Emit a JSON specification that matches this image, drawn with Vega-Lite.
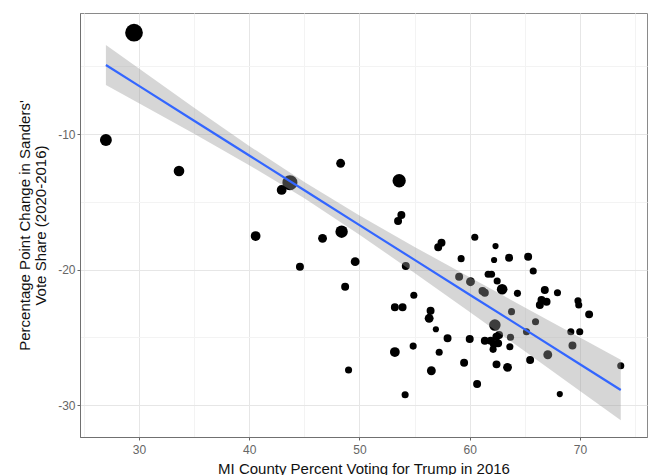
{
  "$schema": "https://vega.github.io/schema/vega-lite/v6.json",
  "width": 567,
  "height": 424,
  "autosize": {"type": "none"},
  "padding": {"left": 80, "top": 13, "right": 1, "bottom": 38},
  "background": "white",
  "config": {
    "view": {"stroke": "#8a8a8a", "strokeWidth": 1},
    "font": "Liberation Sans"
  },
  "datasets": {
    "counties": [
      {"trump": 29.55, "change": -2.52, "pop": 1760},
      {"trump": 27.0, "change": -10.44, "pop": 710},
      {"trump": 33.63, "change": -12.73, "pop": 540},
      {"trump": 48.29, "change": -12.16, "pop": 330},
      {"trump": 53.6, "change": -13.45, "pop": 925},
      {"trump": 43.69, "change": -13.59, "pop": 1230},
      {"trump": 42.94, "change": -14.13, "pop": 430},
      {"trump": 53.8, "change": -15.98, "pop": 235},
      {"trump": 53.5, "change": -16.42, "pop": 235},
      {"trump": 48.38, "change": -17.21, "pop": 790},
      {"trump": 46.65, "change": -17.7, "pop": 330},
      {"trump": 40.58, "change": -17.53, "pop": 430},
      {"trump": 44.6, "change": -19.79, "pop": 235},
      {"trump": 49.61, "change": -19.42, "pop": 330},
      {"trump": 54.2, "change": -19.74, "pop": 235},
      {"trump": 48.7, "change": -21.27, "pop": 235},
      {"trump": 54.93, "change": -21.9, "pop": 155},
      {"trump": 53.21, "change": -22.79, "pop": 235},
      {"trump": 53.91, "change": -22.79, "pop": 235},
      {"trump": 54.87, "change": -25.65, "pop": 155},
      {"trump": 53.21, "change": -26.09, "pop": 430},
      {"trump": 49.01, "change": -27.42, "pop": 155},
      {"trump": 54.14, "change": -29.24, "pop": 155},
      {"trump": 60.46, "change": -17.62, "pop": 155},
      {"trump": 57.44, "change": -18.02, "pop": 235},
      {"trump": 57.14, "change": -18.36, "pop": 235},
      {"trump": 62.34, "change": -18.27, "pop": 80},
      {"trump": 59.22, "change": -19.2, "pop": 155},
      {"trump": 62.21, "change": -19.3, "pop": 80},
      {"trump": 63.57, "change": -19.13, "pop": 235},
      {"trump": 65.3, "change": -19.06, "pop": 235},
      {"trump": 59.04, "change": -20.53, "pop": 235},
      {"trump": 60.07, "change": -20.9, "pop": 330},
      {"trump": 61.67, "change": -20.35, "pop": 155},
      {"trump": 61.98, "change": -20.35, "pop": 155},
      {"trump": 62.49, "change": -20.85, "pop": 155},
      {"trump": 61.16, "change": -21.59, "pop": 235},
      {"trump": 61.37, "change": -21.71, "pop": 235},
      {"trump": 62.94, "change": -21.46, "pop": 540},
      {"trump": 64.33, "change": -21.76, "pop": 155},
      {"trump": 56.45, "change": -23.04, "pop": 235},
      {"trump": 56.32, "change": -23.6, "pop": 330},
      {"trump": 63.79, "change": -23.11, "pop": 155},
      {"trump": 62.28, "change": -24.1, "pop": 660},
      {"trump": 65.76, "change": -20.11, "pop": 155},
      {"trump": 66.81, "change": -21.51, "pop": 235},
      {"trump": 67.96, "change": -21.71, "pop": 155},
      {"trump": 66.51, "change": -22.25, "pop": 235},
      {"trump": 66.97, "change": -22.38, "pop": 235},
      {"trump": 66.36, "change": -22.62, "pop": 235},
      {"trump": 69.82, "change": -22.3, "pop": 155},
      {"trump": 69.89, "change": -22.62, "pop": 155},
      {"trump": 70.83, "change": -23.31, "pop": 235},
      {"trump": 65.97, "change": -23.85, "pop": 155},
      {"trump": 69.17, "change": -24.59, "pop": 155},
      {"trump": 69.98, "change": -24.59, "pop": 155},
      {"trump": 56.93, "change": -24.41, "pop": 80},
      {"trump": 57.99, "change": -25.08, "pop": 235},
      {"trump": 60.0, "change": -25.13, "pop": 235},
      {"trump": 61.37, "change": -25.25, "pop": 235},
      {"trump": 61.9, "change": -25.25, "pop": 235},
      {"trump": 62.42, "change": -24.96, "pop": 235},
      {"trump": 62.66, "change": -24.83, "pop": 235},
      {"trump": 62.19, "change": -25.5, "pop": 235},
      {"trump": 62.58, "change": -25.45, "pop": 235},
      {"trump": 62.12, "change": -25.89, "pop": 155},
      {"trump": 63.7, "change": -25.0, "pop": 155},
      {"trump": 63.64, "change": -25.7, "pop": 155},
      {"trump": 65.48, "change": -26.68, "pop": 235},
      {"trump": 57.23, "change": -26.11, "pop": 155},
      {"trump": 59.49, "change": -26.88, "pop": 235},
      {"trump": 56.52, "change": -27.47, "pop": 330},
      {"trump": 62.43, "change": -27.0, "pop": 235},
      {"trump": 63.43, "change": -27.22, "pop": 330},
      {"trump": 60.67, "change": -28.45, "pop": 235},
      {"trump": 65.15, "change": -24.59, "pop": 155},
      {"trump": 69.32, "change": -25.6, "pop": 235},
      {"trump": 67.08, "change": -26.29, "pop": 330},
      {"trump": 73.7, "change": -27.1, "pop": 155},
      {"trump": 68.17, "change": -29.19, "pop": 80}
    ],
    "fit": [
      {"trump": 27.0, "fit": -4.91, "lo": -6.39, "hi": -3.43},
      {"trump": 30.0, "fit": -6.45, "lo": -7.73, "hi": -5.17},
      {"trump": 35.0, "fit": -9.02, "lo": -9.98, "hi": -8.06},
      {"trump": 40.0, "fit": -11.59, "lo": -12.3, "hi": -10.88},
      {"trump": 45.0, "fit": -14.15, "lo": -14.75, "hi": -13.55},
      {"trump": 50.0, "fit": -16.72, "lo": -17.43, "hi": -16.01},
      {"trump": 55.0, "fit": -19.29, "lo": -20.25, "hi": -18.33},
      {"trump": 60.0, "fit": -21.86, "lo": -23.14, "hi": -20.58},
      {"trump": 65.0, "fit": -24.42, "lo": -26.04, "hi": -22.8},
      {"trump": 70.0, "fit": -26.99, "lo": -28.96, "hi": -25.02},
      {"trump": 73.7, "fit": -28.89, "lo": -31.13, "hi": -26.65}
    ]
  },
  "encoding": {
    "x": {
      "field": "trump",
      "type": "quantitative",
      "scale": {"domain": [24.65, 76.08], "nice": false, "zero": false},
      "axis": {
        "values": [25, 30, 35, 40, 45, 50, 55, 60, 65, 70, 75],
        "labelExpr": "datum.value % 10 === 0 ? '' + datum.value : ''",
        "grid": true,
        "gridColor": {"condition": {"test": "datum.value % 10 === 0", "value": "#e6e6e6"}, "value": "#f3f3f3"},
        "gridWidth": 1,
        "tickColor": {"condition": {"test": "datum.value % 10 === 0", "value": "#666666"}, "value": "transparent"},
        "tickSize": 3,
        "labelPadding": 4,
        "labelFontSize": 12,
        "labelColor": "#666666",
        "labelFlush": false,
        "labelOverlap": false,
        "domain": true,
        "domainColor": "#707070",
        "domainWidth": 1,
        "title": "MI County Percent Voting for Trump in 2016",
        "titleFontSize": 15,
        "titleFontWeight": "normal",
        "titleColor": "#111111",
        "titleY": 36,
        "titleBaseline": "alphabetic"
      }
    }
  },
  "layer": [
    {
      "data": {"name": "counties"},
      "mark": {"type": "circle", "color": "#000000", "opacity": 1},
      "encoding": {
        "y": {
          "field": "change",
          "type": "quantitative",
          "scale": {"domain": [-32.36, -1.07], "nice": false, "zero": false},
          "axis": {
            "values": [-30, -25, -20, -15, -10, -5],
            "labelExpr": "datum.value % 10 === 0 ? '' + datum.value : ''",
            "grid": true,
            "gridColor": {"condition": {"test": "datum.value % 10 === 0", "value": "#e6e6e6"}, "value": "#f3f3f3"},
            "gridWidth": 1,
            "tickColor": {"condition": {"test": "datum.value % 10 === 0", "value": "#666666"}, "value": "transparent"},
            "tickSize": 3,
            "labelPadding": 2,
            "labelFontSize": 12,
            "labelColor": "#666666",
            "labelFlush": false,
            "labelOverlap": false,
            "domain": true,
            "domainColor": "#707070",
            "domainWidth": 1,
            "title": ["Percentage Point Change in Sanders'", "Vote Share (2020-2016)"],
            "titleFontSize": 15,
            "titleFontWeight": "normal",
            "titleColor": "#111111",
            "titleLineHeight": 16,
            "titleAngle": -90,
            "titleAlign": "center",
            "titleBaseline": "middle",
            "titleX": -56,
            "titleY": 212
          }
        },
        "size": {
          "field": "pop",
          "type": "quantitative",
          "scale": {"domain": [0, 1800], "range": [25, 320], "zero": false},
          "legend": null
        }
      }
    },
    {
      "data": {"name": "fit"},
      "mark": {"type": "area", "color": "#999999", "opacity": 0.4},
      "encoding": {
        "y": {"field": "lo", "type": "quantitative"},
        "y2": {"field": "hi"}
      }
    },
    {
      "data": {"name": "fit"},
      "mark": {"type": "line", "color": "#3366FF", "strokeWidth": 2.2},
      "encoding": {
        "y": {"field": "fit", "type": "quantitative"}
      }
    }
  ]
}
